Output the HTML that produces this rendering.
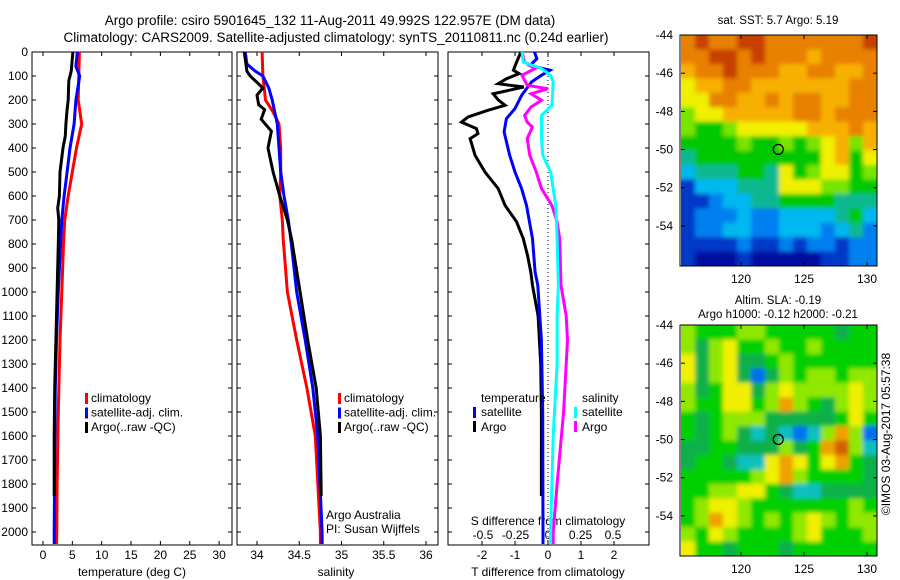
<!DOCTYPE html>
<html><head><meta charset="utf-8">
<style>
html,body{margin:0;padding:0;background:#fff;}
svg{display:block;font-family:"Liberation Sans",Arial,sans-serif;}
</style></head>
<body>
<svg id="fig" width="900" height="580" viewBox="0 0 900 580" xmlns="http://www.w3.org/2000/svg">
<defs>
<filter id="soft" x="-5%" y="-5%" width="110%" height="110%"><feGaussianBlur stdDeviation="2.2"/></filter>
<clipPath id="clipTop"><rect x="681" y="35" width="196" height="231"/></clipPath>
<clipPath id="clipBot"><rect x="681" y="325" width="196" height="231"/></clipPath>
</defs>
<text x="330" y="25" font-size="13.5" text-anchor="middle">Argo profile: csiro 5901645_132 11-Aug-2011 49.992S 122.957E (DM data)</text>
<text x="336" y="42" font-size="13.5" text-anchor="middle">Climatology: CARS2009. Satellite-adjusted climatology: synTS_20110811.nc (0.24d earlier)</text>
<g id="g"></g>
</svg>
<script>
// ---- data ----
const depthTicks=[0,100,200,300,400,500,600,700,800,900,1000,1100,1200,1300,1400,1500,1600,1700,1800,1900,2000];
const tempTicks=[0,5,10,15,20,25,30];
const salTicks=[34,34.5,35,35.5,36];
const dTTicks=[-2,-1,0,1,2];
const dSTicks=[-0.5,-0.25,0,0.25,0.5];
const dSTickLabels=["-0.5","-0.25","0","0.25","0.5"];

const climTdepth=[0,100,200,300,400,500,600,700,800,1000,1200,1500,1800,2000,2050];
const climT=[6.2,6.1,6.0,6.6,5.7,5.0,4.3,3.7,3.5,3.2,2.9,2.6,2.4,2.35,2.3];
const satTdepth=[0,60,100,200,300,400,500,600,700,800,1000,1200,1400,1700,2000,2050];
const satT=[5.85,5.6,6.25,5.6,5.3,4.6,4.1,3.6,3.2,3.0,2.6,2.3,2.1,2.0,1.9,1.9];
const argoTdepth=[0,80,100,120,200,240,300,350,400,500,600,650,700,800,1000,1200,1400,1600,1850];
const argoT=[5.1,4.8,4.6,4.4,4.3,4.1,3.9,3.8,3.4,2.9,2.8,2.5,2.7,2.6,2.4,2.2,2.0,1.9,1.9];

const climSdepth=[0,100,200,250,300,400,500,600,700,780,1000,1200,1400,1600,2000,2050];
const climS=[34.06,34.07,34.1,34.19,34.26,34.28,34.28,34.27,34.3,34.31,34.36,34.47,34.59,34.69,34.75,34.75];
const satSdepth=[0,50,80,100,150,200,300,400,500,600,700,780,1000,1200,1400,1600,2000,2050];
const satS=[33.86,33.88,33.98,34.07,34.14,34.18,34.24,34.26,34.28,34.32,34.37,34.4,34.47,34.57,34.66,34.72,34.77,34.77];
const argoSdepth=[0,80,100,150,180,220,240,280,330,400,500,600,700,780,1000,1200,1400,1600,1850];
const argoS=[33.85,33.88,33.92,34.07,34.0,34.02,34.09,34.05,34.17,34.13,34.19,34.27,34.36,34.41,34.51,34.6,34.7,34.75,34.76];

const dTargoDepth=[0,42,76,90,111,132,146,174,201,222,243,271,292,319,340,361,431,500,569,639,708,778,847,917,972,1100,1300,1500,1700,1850];
const dTargo=[-0.82,-0.95,-1.05,-0.88,-1.25,-1.51,-0.73,-1.66,-1.5,-1.3,-1.82,-2.42,-2.62,-2.17,-2.12,-2.36,-2.21,-1.91,-1.51,-1.3,-0.95,-0.75,-0.62,-0.52,-0.47,-0.3,-0.22,-0.2,-0.2,-0.2];
const dTsatDepth=[0,28,56,76,97,125,181,236,278,333,431,500,569,639,778,917,972,1200,1500,2000,2050];
const dTsat=[-0.41,-0.34,-0.54,0.06,-0.2,-0.5,-0.8,-1.0,-1.26,-1.33,-1.16,-1.0,-0.8,-0.65,-0.47,-0.39,-0.31,-0.2,-0.16,-0.15,-0.15];
const dSargoDepth=[0,42,69,97,139,153,174,201,229,264,292,313,361,431,500,569,639,708,778,972,1100,1200,1500,1800,2000,2050];
const dSargo=[-0.2,-0.18,-0.1,-0.2,-0.16,0.0,-0.13,-0.05,-0.13,-0.18,-0.16,-0.12,-0.16,-0.14,-0.09,-0.05,0.03,0.07,0.09,0.1,0.14,0.15,0.12,0.07,0.04,0.04];
const dSsatDepth=[0,42,69,97,125,222,264,361,431,500,639,778,972,1100,1300,1600,2000,2050];
const dSsat=[-0.2,-0.19,-0.05,0.02,0.04,0.03,-0.05,-0.05,-0.04,0.02,0.06,0.07,0.08,0.07,0.07,0.04,0.02,0.02];

// map grids (colour index 0..10)
const sstGrid=[
[9,10,9,9,10,10,9,9,9,9,9,9,9,10],
[9,9,10,10,9,10,9,9,9,8,9,9,9,9],
[8,9,9,10,9,9,9,8,8,9,9,8,8,9],
[7,8,8,9,9,8,8,8,8,8,8,8,9,9],
[7,7,9,9,8,8,9,8,9,9,8,8,9,9],
[6,7,7,8,8,8,8,8,9,9,8,9,9,9],
[6,5,5,6,7,7,7,7,7,8,8,8,9,8],
[5,5,5,5,6,5,5,6,5,6,7,8,6,8],
[4,5,5,5,5,5,5,5,5,5,7,8,5,7],
[3,4,4,4,5,5,4,7,5,6,7,7,5,6],
[1,3,3,3,4,4,4,7,7,7,6,6,5,5],
[1,1,2,3,3,4,4,5,5,5,5,4,4,4],
[1,2,2,2,3,2,2,3,3,3,3,4,5,3],
[1,2,2,3,3,2,2,3,3,3,2,3,4,2],
[1,1,1,1,2,1,1,2,1,2,2,1,2,2],
[1,0,0,0,1,0,0,0,0,0,1,1,2,2]];
const slaGrid=[
[6,5,5,5,6,6,5,5,5,5,5,4,5,5],
[6,4,6,7,5,5,6,5,5,6,5,5,5,5],
[7,4,6,7,4,4,5,6,5,5,5,5,5,5],
[7,4,6,7,4,2,4,6,5,6,6,5,6,6],
[6,4,5,7,7,4,6,7,6,6,6,6,7,6],
[6,5,5,7,7,5,6,8,6,5,4,6,7,6],
[5,4,5,6,6,6,4,4,4,4,4,5,7,5],
[5,4,5,6,4,3,4,3,2,3,6,8,6,2],
[4,4,5,5,4,4,4,6,4,5,8,9,6,3],
[4,5,5,4,3,3,7,8,7,5,7,8,5,4],
[5,5,5,5,5,6,7,8,6,5,5,5,5,4],
[5,5,6,6,7,7,5,4,3,3,4,4,4,4],
[5,6,7,7,6,5,5,5,5,5,5,5,6,5],
[5,6,8,7,6,5,6,5,6,7,6,5,6,6],
[6,5,7,6,5,5,5,5,6,7,5,5,5,6],
[7,5,5,4,5,5,5,4,5,5,5,5,5,5]];
const latTicks=[-44,-46,-48,-50,-52,-54];
const lonTicks=[120,125,130];
const argoLon=[122.957], argoLat=[-49.992];

// ---- drawing ----
const NS="http://www.w3.org/2000/svg";
const G=document.getElementById('g');
function el(tag,attrs,parent){const e=document.createElementNS(NS,tag);for(const k in attrs)e.setAttribute(k,attrs[k]);(parent||G).appendChild(e);return e;}
function txt(x,y,s,size,anchor,parent){const t=el('text',{x:x,y:y,'font-size':size||12,'text-anchor':anchor||'start'},parent);t.textContent=s;return t;}

const TOP=52, BOT=545;
const yD=d=>TOP+d*0.24;
const xT=t=>43+t*5.87;
const xS=s=>257+(s-34)*84.5;
const xdT=t=>548+t*33;
const xdS=s=>548+s*130;

function panel(name,x0,x1){
  const g=el('g',{});
  
  
  const r=el('rect',{x:x0,y:TOP,width:x1-x0,height:BOT-TOP,fill:'none',stroke:'#000','stroke-width':1},g);
  
  
  depthTicks.forEach(d=>{
    el('line',{x1:x0,x2:x0+4,y1:yD(d),y2:yD(d),stroke:'#000'},g);
    el('line',{x1:x1-4,x2:x1,y1:yD(d),y2:yD(d),stroke:'#000'},g);
  });
  return g;
}
function line(g,xs,ds,fx,color,name){
  const pts=xs.map((v,i)=>fx(v).toFixed(1)+','+yD(ds[i]).toFixed(1)).join(' ');
  const p=el('polyline',{points:pts,fill:'none',stroke:color,'stroke-width':3,'stroke-linejoin':'miter'},g);
  
  
}
const yl=el('g',{});


depthTicks.forEach(d=>txt(28,yD(d)+4,String(d),12,'end',yl));

// panel 1
const p1=panel('temperature-panel',32,232);
tempTicks.forEach(t=>{el('line',{x1:xT(t),x2:xT(t),y1:TOP,y2:TOP+4,stroke:'#000'},p1);el('line',{x1:xT(t),x2:xT(t),y1:BOT-4,y2:BOT,stroke:'#000'},p1);txt(xT(t),559,String(t),12,'middle',p1);});
txt(132,576,'temperature (deg C)',12,'middle',p1);
line(p1,climT,climTdepth,xT,'#ff0000','temp-climatology-line');
line(p1,satT,satTdepth,xT,'#0000ff','temp-satellite-line');
line(p1,argoT,argoTdepth,xT,'#000000','temp-argo-line');
function legend3(g,x,y){
  [['#ff0000','climatology'],['#0000ff','satellite-adj. clim.'],['#000','Argo(..raw -QC)']].forEach((e,i)=>{
    el('rect',{x:x,y:y+i*14.5-9,width:3,height:11,fill:e[0]},g);
    txt(x+6,y+i*14.5,e[1],12,'start',g);
  });
}
legend3(p1,85,402);

// panel 2
const p2=panel('salinity-panel',237,438);
salTicks.forEach(s=>{el('line',{x1:xS(s),x2:xS(s),y1:TOP,y2:TOP+4,stroke:'#000'},p2);el('line',{x1:xS(s),x2:xS(s),y1:BOT-4,y2:BOT,stroke:'#000'},p2);txt(xS(s),559,String(s),12,'middle',p2);});
txt(336,576,'salinity',12,'middle',p2);
line(p2,climS,climSdepth,xS,'#ff0000','sal-climatology-line');
line(p2,satS,satSdepth,xS,'#0000ff','sal-satellite-line');
line(p2,argoS,argoSdepth,xS,'#000000','sal-argo-line');
legend3(p2,338,402);
txt(326,519,'Argo Australia',12,'start',p2);
txt(326,533,'PI: Susan Wijffels',12,'start',p2);

// panel 3
const p3=panel('difference-panel',448,649);
el('line',{x1:548,x2:548,y1:TOP,y2:BOT,stroke:'#000','stroke-dasharray':'1,3'},p3);
dTTicks.forEach(t=>{el('line',{x1:xdT(t),x2:xdT(t),y1:TOP,y2:TOP+4,stroke:'#000'},p3);el('line',{x1:xdT(t),x2:xdT(t),y1:BOT-4,y2:BOT,stroke:'#000'},p3);txt(xdT(t),559,String(t),12,'middle',p3);});
dSTicks.forEach((s,i)=>txt(xdS(s),539,dSTickLabels[i],12,'middle',p3));
txt(548,525,'S difference from climatology',12,'middle',p3);
txt(548,576,'T difference from climatology',12,'middle',p3);
line(p3,dTargo,dTargoDepth,xdT,'#000000','dT-argo-line');
line(p3,dTsat,dTsatDepth,xdT,'#0000ff','dT-satellite-line');
line(p3,dSargo,dSargoDepth,xdS,'#ff00ff','dS-argo-line');
line(p3,dSsat,dSsatDepth,xdS,'#00ffff','dS-satellite-line');
txt(481,402,'temperature',12,'start',p3);
el('rect',{x:473,y:407,width:3,height:11,fill:'#0000ff'},p3);txt(481,416,'satellite',12,'start',p3);
el('rect',{x:473,y:421,width:3,height:11,fill:'#000'},p3);txt(481,431,'Argo',12,'start',p3);
txt(582,402,'salinity',12,'start',p3);
el('rect',{x:574,y:407,width:3,height:11,fill:'#00ffff'},p3);txt(582,416,'satellite',12,'start',p3);
el('rect',{x:574,y:421,width:3,height:11,fill:'#ff00ff'},p3);txt(582,431,'Argo',12,'start',p3);

// maps
const palSST=['#0010a0','#0038c8','#0080f0','#00b8f0','#10b890','#00c800','#78e400','#f0f000','#f8b000','#e88000','#c84000'];
const palSLA=['#0010a0','#0038c8','#0070f0','#10c0c0','#10b048','#00d000','#90e800','#f0f000','#f0a000','#d06000','#c04000'];
function map(name,grid,y0,y1,pal,clip){
  const x0=681,x1=877;
  const g=el('g',{});
  
  
  const cg=el('g',{'clip-path':'url(#'+clip+')'},g);
  const cells=el('g',{filter:'url(#soft)'},cg);
  const rows=grid.length, cols=grid[0].length, cw=(x1-x0)/cols, rh=(y1-y0)/rows;
  grid.forEach((row,r)=>row.forEach((v,c)=>{
    const cell=el('rect',{x:(x0+c*cw-(c==0?4:0)).toFixed(2),y:(y0+r*rh-(r==0?4:0)).toFixed(2),width:(cw+0.6+(c==0||c==cols-1?4:0)).toFixed(2),height:(rh+0.6+(r==0||r==rows-1?4:0)).toFixed(2),fill:pal[v]},cells);
    
    
  }));
  el('rect',{x:x0-1,y:y0,width:x1-x0+1,height:y1-y0,fill:'none',stroke:'#000'},g);
  const lonX=l=>741+(l-120)*12.6;
  const latY=l=>y0+(-44-l)*((y1-y0)/12.1);
  lonTicks.forEach(l=>{el('line',{x1:lonX(l),x2:lonX(l),y1:y0,y2:y0+4,stroke:'#000'},g);el('line',{x1:lonX(l),x2:lonX(l),y1:y1-4,y2:y1,stroke:'#000'},g);txt(lonX(l),y1+17,String(l),12,'middle',g);});
  latTicks.forEach(l=>{el('line',{x1:x0,x2:x0+4,y1:latY(l),y2:latY(l),stroke:'#000'},g);el('line',{x1:x1-4,x2:x1,y1:latY(l),y2:latY(l),stroke:'#000'},g);txt(673,latY(l)+4,String(l),12,'end',g);});
  const m=el('circle',{cx:lonX(argoLon[0]),cy:latY(argoLat[0]),r:5,fill:'none',stroke:'#000','stroke-width':1.2},g);
  
  
  return g;
}
const m1=map('sst-map',sstGrid,35,266,palSST,'clipTop');
txt(778,24,'sat. SST: 5.7 Argo: 5.19',11.5,'middle',m1);
const m2=map('sla-map',slaGrid,325,556,palSLA,'clipBot');
txt(778,304,'Altim. SLA: -0.19',11.5,'middle',m2);
txt(778,318,'Argo h1000: -0.12 h2000: -0.21',11.5,'middle',m2);
const cr=txt(0,0,'\u00a9IMOS 03-Aug-2017 05:57:38',12,'middle');
cr.setAttribute('transform','translate(890,434) rotate(-90)');


</script>
</body></html>
